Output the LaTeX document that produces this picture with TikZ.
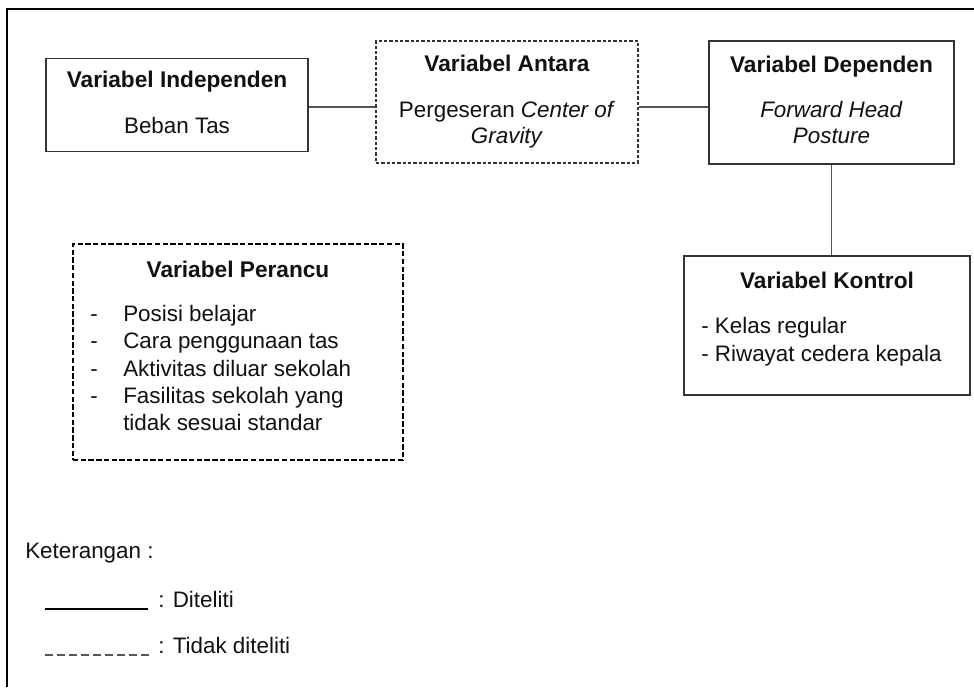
\documentclass[tikz,border=0pt]{standalone}
\usepackage{fontspec}
\setmainfont{Liberation Sans}
\definecolor{boxgray}{HTML}{333333}
\definecolor{linegray}{HTML}{555555}
\definecolor{txt}{HTML}{111111}
\begin{document}
\begin{tikzpicture}[x=0.75pt,y=-0.75pt,
  sz/.style 2 args={minimum width=#1*0.75pt, minimum height=#2*0.75pt},
  box/.style={draw=boxgray, line width=1pt, inner sep=0pt},
  dbox/.style={draw=boxgray, line width=0.85pt, dash pattern=on 2.5pt off 1.5pt, inner sep=0pt},
  pbox/.style={draw=black, line width=2.2pt, dash pattern=on 4pt off 1.8pt, inner sep=0pt},
  conn/.style={draw=linegray, line width=1pt},
  ttl/.style={font=\fontsize{17}{20}\selectfont\bfseries, text=txt, inner sep=0pt, anchor=base},
  body/.style={font=\fontsize{16.8}{20}\selectfont, text=txt, inner sep=0pt, anchor=base},
  lft/.style={body, anchor=base west}]
\useasboundingbox (0,0) rectangle (974,687);
\fill[white] (0,0) rectangle (974,687);
% outer frame
\coordinate (fcorner) at (7,9);
\coordinate (ftopend) at (974,9);
\coordinate (fleftend) at (7,687);
\draw[black, line width=2.2pt] (fleftend) -- (fcorner) -- (ftopend);

% boxes
\node[box, sz={262}{93}] (ind) at (177,105) {};
\node[dbox, sz={262}{122}] (ant) at (507,102) {};
\node[box, sz={245}{123}] (dep) at (831.5,102.5) {};
\node[pbox, sz={330}{216}] (per) at (238,352) {};
\node[box, sz={286}{139}] (kon) at (827,325.5) {};

% connectors
\coordinate (lvl) at (0,107);
\draw[conn] (ind.east |- lvl) -- (ant.west |- lvl);
\draw[conn] (ant.east |- lvl) -- (dep.west |- lvl);
\draw[conn] (dep.south) -- (dep.south |- kon.north);

% texts
\node[ttl] (indT) at (177,87) {Variabel Independen};
\node[body] (indB) at (177,133) {Beban Tas};

\node[ttl] (antT) at (507,71) {Variabel Antara};
\node[body] (antB1) at (507,117) {Pergeseran \textit{Center of}};
\node[body] (antB2) at (507,143) {\textit{Gravity}};

\node[ttl] (depT) at (831.5,72) {Variabel Dependen};
\node[body] (depB1) at (831.5,117) {\textit{Forward Head}};
\node[body] (depB2) at (831.5,143) {\textit{Posture}};

\node[ttl] (perT) at (238,277) {Variabel Perancu};
\node[lft] (pd1) at (90,321) {-};
\node[lft] (pd2) at (90,348) {-};
\node[lft] (pd3) at (90,376) {-};
\node[lft] (pd4) at (90,403) {-};
\node[lft] (pi1) at (123,321) {Posisi belajar};
\node[lft] (pi2) at (123,348) {Cara penggunaan tas};
\node[lft] (pi3) at (123,376) {Aktivitas diluar sekolah};
\node[lft] (pi4) at (123,403) {Fasilitas sekolah yang};
\node[lft] (pi5) at (123,430) {tidak sesuai standar};

\node[ttl] (konT) at (827,288) {Variabel Kontrol};
\node[lft] (k1) at (701,333) {- Kelas regular};
\node[lft] (k2) at (701,361) {- Riwayat cedera kepala};

% legend
\node[lft] (ket) at (25,558) {Keterangan :};
\coordinate (s1) at (45,609);
\coordinate (s2) at (148,609);
\draw[black, line width=2.1pt] (s1) -- (s2);
\node[lft] (l1) at (158,607) {: Diteliti};
\coordinate (d1) at (45,655);
\coordinate (d2) at (150,655);
\draw[linegray, line width=1pt, dash pattern=on 6pt off 3pt] (d1) -- (d2);
\node[lft] (l2) at (158,653) {: Tidak diteliti};
\end{tikzpicture}
\end{document}
